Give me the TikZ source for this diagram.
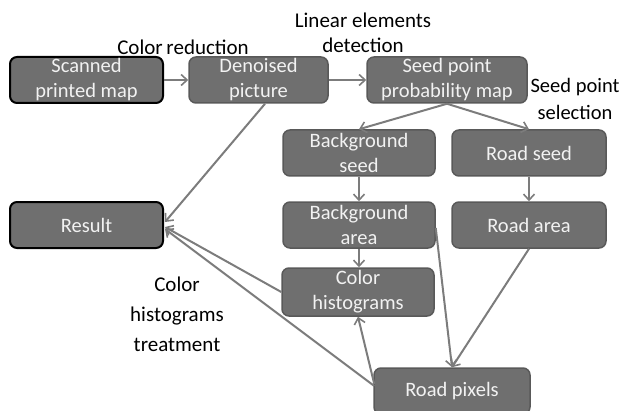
\documentclass[tikz,border=0pt]{standalone}
\usepackage{fontspec}
\setmainfont{Carlito}
\usetikzlibrary{arrows.meta,calc}
\definecolor{boxfill}{HTML}{6F6F6F}
\definecolor{boxline}{HTML}{595959}
\definecolor{arrowcol}{HTML}{7C7C7C}
\definecolor{boxtext}{HTML}{F2F2F2}
\begin{document}
\begin{tikzpicture}[x=1pt,y=1pt,
  procbox/.style={draw=boxline,line width=1.5pt,fill=boxfill,rounded corners=7pt,
    text=boxtext,font=\fontsize{20.5}{25}\selectfont,align=center,inner sep=0pt,
    minimum height=46pt},
  endbox/.style={procbox,draw=black,line width=2pt},
  lbl/.style={font=\fontsize{21}{25}\selectfont,align=center,text=black,inner sep=0pt},
  flow/.style={draw=arrowcol,line width=2pt,-{Straight Barb[length=6pt,width=11pt,line width=1.6pt]}}
]
\useasboundingbox (0,0) rectangle (620,410);
% boxes (y = 410 - pixel y)
\node[endbox,minimum width=153pt] (scan) at (86.5,330) {Scanned\\printed map};
\node[procbox,minimum width=139pt] (den) at (258.5,330) {Denoised\\picture};
\node[procbox,minimum width=160pt] (seedmap) at (447,330) {Seed point\\probability map};
\node[procbox,minimum width=152pt] (bgseed) at (359,257) {Background\\seed};
\node[procbox,minimum width=154pt] (roadseed) at (529,257) {Road seed};
\node[endbox,minimum width=153pt] (result) at (86.5,185) {Result};
\node[procbox,minimum width=152pt] (bgarea) at (359,185) {Background\\area};
\node[procbox,minimum width=154pt] (roadarea) at (529,185) {Road area};
\node[procbox,minimum width=152pt,minimum height=48pt] (colhist) at (358,118) {Color\\histograms};
\node[procbox,minimum width=156pt] (roadpix) at (452,19) {Road pixels};
% labels
\node[lbl] (lcol) at (183,363) {Color\kern-1pt\ reduction};
\node[lbl] (llin) at (363,377.5) {Linear elements\\detection};
\node[lbl,font=\fontsize{20.5}{27}\selectfont] (lsel) at (575,311.5) {Seed point\\selection};
\node[lbl,font=\fontsize{21}{30}\selectfont] (lhist) at (177,96) {Color\\histograms\\treatment};
% connectors
\draw[flow] (scan.east) -- (den.west);
\draw[flow] (den.east) -- (seedmap.west);
\draw[flow] ($(den.south)+(6.5,0)$) -- ($(result.east)+(1,3)$);
\draw[flow] (seedmap.south) -- (bgseed.north);
\draw[flow] (seedmap.south) -- (roadseed.north);
\draw[flow] (bgseed.south) -- (bgseed.south |- bgarea.north);
\draw[flow] (bgarea.south) -- (bgarea.south |- colhist.north);
\draw[flow] (roadseed.south) -- (roadarea.north);
\draw[flow] (roadarea.south) -- (roadpix.north);
\draw[flow] ($(bgarea.east)+(0,-3)$) -- (roadpix.north);
\draw[flow] ($(roadpix.west)+(1,7)$) -- (colhist.south);
\draw[flow] ($(roadpix.west)+(1,5)$) -- ($(result.east)+(1,-4)$);
\draw[flow] (colhist.west) -- ($(result.east)+(1,-2)$);
\end{tikzpicture}
\end{document}
